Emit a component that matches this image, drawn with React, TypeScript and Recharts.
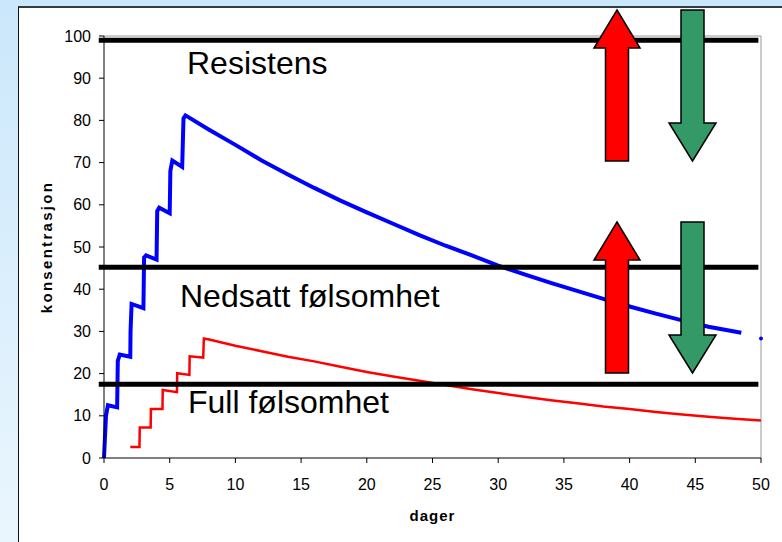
import * as React from 'react';
import { LineChart, Line, XAxis, YAxis, ReferenceLine, ReferenceDot } from 'recharts';

// days on the x axis, concentration on the y axis
const xTicks = [0, 5, 10, 15, 20, 25, 30, 35, 40, 45, 50];
const yTicks = [0, 10, 20, 30, 40, 50, 60, 70, 80, 90, 100];

// blue curve: daily doses then decay
const blueDays = [0, 0.15, 0.3, 1, 1.05, 1.2, 2, 2.02, 2.1, 3, 3.05, 3.2, 4, 4.05, 4.2, 5, 5.05, 5.2, 5.95, 6.05, 6.2,
  8, 10, 12, 14, 16, 18, 20, 22, 24, 26, 28, 30, 32, 34, 36, 38, 40, 42, 44, 46, 48.5];
const blueConc = [0, 10, 12.5, 12, 23, 24.5, 24, 30, 36.5, 35.5, 47.5, 48, 47, 58.5, 59.3, 58, 68, 70.5, 69, 80.5, 81.2,
  77.8, 74.2, 70.5, 67.2, 64, 61, 58.2, 55.5, 52.8, 50.3, 48, 45.6, 43.5, 41.5, 39.6, 37.7, 35.9, 34.2, 32.6, 31.1, 29.7];

// red curve
const redDays = [2, 2.7, 2.72, 3.55, 3.57, 4.45, 4.47, 5.55, 5.57, 6.5, 6.52, 7.55, 7.6, 8,
  10, 12, 14, 16, 18, 20, 22, 24, 26, 28, 30, 32, 34, 36, 38, 40, 42, 44, 46, 48, 50];
const redConc = [2.6, 2.6, 7.2, 7.2, 11.6, 11.6, 16.1, 15.6, 20.1, 19.7, 24.1, 23.8, 28.3, 28.1,
  26.6, 25.3, 24.0, 22.9, 21.6, 20.4, 19.3, 18.3, 17.3, 16.3, 15.4, 14.5, 13.7, 13.0, 12.2, 11.6, 10.9, 10.3, 9.8, 9.3, 8.9];

// threshold levels
const thresholds = [99, 45.2, 17.5];
const zoneLabels = ['Resistens', 'Nedsatt følsomhet', 'Full følsomhet'];

const blueData = blueDays.map((x, i) => ({ x, y: blueConc[i] }));
const redData = redDays.map((x, i) => ({ x, y: redConc[i] }));

const FONT = '"Liberation Sans", Arial, sans-serif';

function UpArrow({ x, top, bottom }: { x: number; top: number; bottom: number }) {
  const head = 38;
  const pts = [
    [x, top], [x + 23, top + head], [x + 11.5, top + head], [x + 11.5, bottom],
    [x - 11.5, bottom], [x - 11.5, top + head], [x - 23, top + head],
  ].map((p) => p.join(',')).join(' ');
  return <polygon points={pts} fill="#ff0000" stroke="#000" strokeWidth={1.5} />;
}

function DownArrow({ x, top, bottom }: { x: number; top: number; bottom: number }) {
  const head = 38;
  const pts = [
    [x - 11.5, top], [x + 11.5, top], [x + 11.5, bottom - head], [x + 23.5, bottom - head],
    [x, bottom], [x - 23.5, bottom - head], [x - 11.5, bottom - head],
  ].map((p) => p.join(',')).join(' ');
  return <polygon points={pts} fill="#339966" stroke="#000" strokeWidth={1.5} />;
}

export default function App() {
  return (
    <div style={{ position: 'absolute', left: 0, top: 0, width: 782, height: 542, overflow: 'hidden',
      background: 'linear-gradient(to bottom, #cbe7fb, #eaf6fe)', fontFamily: FONT }}>
      <div style={{ position: 'absolute', left: 18, top: 6, width: 800, height: 600, background: '#fff',
        borderLeft: '1.5px solid #111', borderTop: '2px solid #333b45' }} />
      <div style={{ position: 'absolute', left: 0, top: 0 }}>
        <LineChart width={782} height={542} margin={{ top: 36, right: 21, left: 0, bottom: 0 }}>
          <XAxis
            type="number"
            dataKey="x"
            domain={[0, 50]}
            ticks={xTicks}
            height={84}
            tickSize={5}
            tickMargin={16}
            stroke="#000"
            tick={{ fill: '#000', fontSize: 16, fontFamily: FONT }}
            label={{ value: 'dager', position: 'center', dy: 16, fill: '#000', fontSize: 15,
              fontWeight: 'bold', fontFamily: FONT, letterSpacing: 1 }}
          />
          <YAxis
            type="number"
            dataKey="y"
            domain={[0, 100]}
            ticks={yTicks}
            width={104}
            tickSize={5}
            tickMargin={8}
            stroke="#000"
            tick={{ fill: '#000', fontSize: 16, fontFamily: FONT }}
            label={{ value: 'konsentrasjon', angle: -90, position: 'center', dx: -5, fill: '#000',
              fontSize: 15, fontWeight: 'bold', fontFamily: FONT, letterSpacing: 2.3 }}
          />
          <ReferenceLine y={100} stroke="#999" strokeWidth={1} />
          <ReferenceLine x={50} stroke="#999" strokeWidth={1} />
          <Line data={redData} dataKey="y" type="linear" stroke="#ff0000" strokeWidth={2.5}
            dot={false} isAnimationActive={false} />
          <Line data={blueData} dataKey="y" type="linear" stroke="#0000ff" strokeWidth={4}
            dot={false} isAnimationActive={false} />
          <ReferenceDot x={50} y={28.3} r={2} fill="#0000ff" stroke="none" />
          {thresholds.map((t) => (
            <ReferenceLine
              key={t}
              segment={[{ x: -0.4, y: t }, { x: 49.8, y: t }]}
              ifOverflow="visible"
              stroke="#000"
              strokeWidth={5}
            />
          ))}
        </LineChart>
      </div>
      <svg width={782} height={542} style={{ position: 'absolute', left: 0, top: 0, pointerEvents: 'none' }}>
        <text x={187} y={74} fontSize={32} fontFamily={FONT} fill="#000">{zoneLabels[0]}</text>
        <text x={180} y={307} fontSize={32} fontFamily={FONT} fill="#000">{zoneLabels[1]}</text>
        <text x={188} y={413} fontSize={32} fontFamily={FONT} fill="#000">{zoneLabels[2]}</text>
        <UpArrow x={617} top={10} bottom={161} />
        <DownArrow x={692.5} top={10} bottom={161} />
        <UpArrow x={617} top={222} bottom={373} />
        <DownArrow x={692.5} top={222} bottom={373} />
      </svg>
    </div>
  );
}
